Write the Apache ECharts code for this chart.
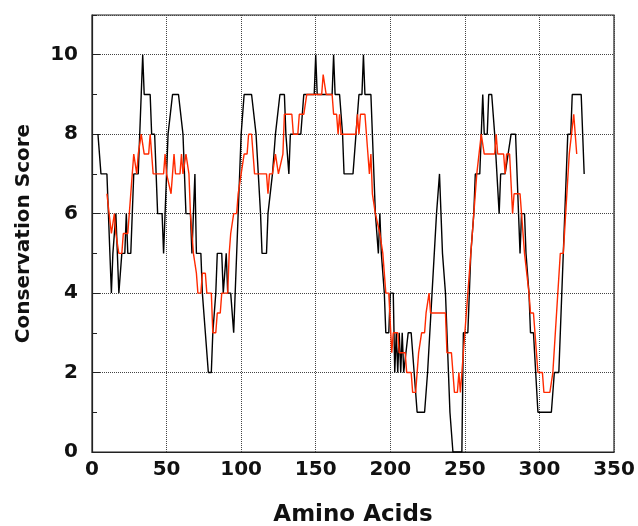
<!DOCTYPE html>
<html>
<head>
<meta charset="utf-8">
<script src="https://cdn.jsdelivr.net/npm/echarts@6/dist/echarts.min.js"></script>
<style>
  html, body { margin: 0; padding: 0; background: #fff; }
  #chart { width: 638px; height: 526px; }
</style>
</head>
<body>
<div id="chart"></div>
<script>
  // raw conservation score per residue (black), vertices [residue, score]
  var rawScores = [
    [4,8],[5,8],[6,7],[10,7],[13,4],[14,5],[15,5],[16,6],[18,4],[19,4],[20,5],[22,5],[23,6],[24,5],[26,5],
    [28,7],[31,7],[32,8],[34,10],[35,9],[39,9],[40,8],[42,8],[44,6],[47,6],[48,5],[51,8],[54,9],[58,9],
    [61,8],[62,8],[63,6],[66,6],[67,5],[69,7],[70,5],[73,5],[74,4],[76,3],[78,2],[80,2],[81,3],[82,3],
    [83,4],[84,5],[87,5],[88,4],[89,4],[90,5],[91,4],[93,4],[95,3],[99,7],[100,8],[102,9],[107,9],[110,8],
    [113,6],[114,5],[117,5],[118,6],[121,7],[123,8],[126,9],[129,9],[130,8],[132,7],[133,8],[140,8],[142,9],
    [149,9],[150,10],[151,9],[161,9],[162,10],[163,9],[166,9],[168,8],[169,7],[175,7],[177,8],[179,9],
    [181,9],[182,10],[183,9],[187,9],[188,8],[190,6],[191,6],[192,5],[193,6],[194,5],[196,4],[197,3],
    [199,3],[200,4],[202,4],[203,2],[204,3],[205,2],[206,3],[207,2],[208,3],[209,2],[212,3],[214,3],
    [216,2],[218,1],[223,1],[225,2],[231,6],[233,7],[234,6],[235,5],[237,4],[240,1],[241,1],[242,0],
    [248,0],[249,3],[252,3],[254,5],[256,6],[257,7],[260,7],[262,9],[263,8],[265,8],[266,9],[268,9],
    [270,8],[273,6],[274,7],[277,7],[281,8],[284,8],[287,5],[288,6],[290,6],[291,5],[293,4],[294,3],
    [296,3],[299,1],[308,1],[310,2],[313,2],[319,8],[321,8],[322,9],[328,9],[329,8],[330,7]
  ];

  // window-averaged score (red)
  var smoothScores = [
    [10,6.5],[13,5.5],[14,5.5],[15,6],[16,5.5],[18,5],[20,5],[21,5.5],[24,5.5],[25,6],[27,7],[28,7.5],
    [30,7],[31,7.5],[33,8],[35,7.5],[38,7.5],[39,8],[40,7.5],[41,7],[48,7],[49,7.5],[50,7],[51,7],
    [53,6.5],[54,7],[55,7.5],[56,7],[59,7],[60,7.5],[61,7],[63,7.5],[64,7.5],[65,7],[66,6],[68,5],
    [70,4.5],[71,4],[73,4],[74,4.5],[76,4.5],[77,4],[80,4],[81,3],[83,3],[84,3.5],[86,3.5],[87,4],
    [91,4],[92,5],[93,5.5],[94,5.5],[95,6],[97,6],[98,6.5],[99,6.5],[100,7],[101,7],[102,7.5],[104,7.5],
    [105,8],[107,8],[108,7.5],[109,7],[117,7],[118,6.5],[119,7],[121,7],[123,7.5],[125,7],[126,7],
    [128,7.5],[129,8.5],[134,8.5],[135,8],[138,8],[139,8.5],[142,8.5],[144,9],[154,9],[155,9.5],
    [156,9.5],[157,9],[161,9],[162,8.5],[164,8.5],[165,8],[166,8.5],[167,8],[177,8],[178,8.5],[179,8],
    [180,8.5],[183,8.5],[185,7.5],[186,7],[187,7.5],[188,6.5],[190,6],[193,5.5],[195,5],[197,4],[199,4],
    [201,2.5],[202,3],[205,3],[206,2.5],[210,2.5],[211,2],[214,2],[215,1.5],[217,1.5],[219,2.5],
    [220,2.5],[221,3],[223,3],[224,3.5],[225,3.5],[226,4],[227,3.5],[237,3.5],[238,2.5],[241,2.5],
    [243,1.5],[245,1.5],[246,2],[247,1.5],[248,2],[250,3],[252,4],[254,5],[256,6],[258,7],[261,8],
    [262,8],[263,7.5],[270,7.5],[271,8],[272,7.5],[276,7.5],[277,7],[278,7.5],[280,7.5],[282,6],
    [283,6.5],[287,6.5],[288,6],[290,5],[293,4],[294,3.5],[296,3.5],[297,3],[299,2],[302,2],[303,1.5],
    [307,1.5],[309,2],[314,5],[316,5],[320,7.5],[323,8.5],[325,7.5]
  ];

  var xRange = [0, 350];
  var yRange = [0, 11];

  var font = 'DejaVu Sans';
  var chart = echarts.init(document.getElementById('chart'));
  var option = {
    animation: false,
    backgroundColor: '#fff',
    grid: {
      left: 92, right: 24, top: 15, bottom: 74,
      outerBoundsMode: 'none',
      show: true, borderColor: '#222', borderWidth: 1.2
    },
    xAxis: {
      type: 'value',
      min: xRange[0], max: xRange[1], interval: 50,
      name: 'Amino Acids',
      nameLocation: 'middle',
      nameGap: 52,
      nameTextStyle: { fontFamily: font, fontWeight: 'bold', fontSize: 23, color: '#111' },
      axisLine: { lineStyle: { color: '#222', width: 1.2 } },
      axisTick: { show: false },
      axisLabel: { fontFamily: font, fontWeight: 'bold', fontSize: 20, color: '#111', margin: 8 },
      splitLine: { show: true, lineStyle: { type: 'dotted', color: '#444', width: 1 } }
    },
    yAxis: [
      {
        type: 'value',
        position: 'left',
        min: yRange[0], max: yRange[1], interval: 2,
        name: 'Conservation Score',
        nameLocation: 'middle',
        nameGap: 58,
        nameTextStyle: { fontFamily: font, fontWeight: 'bold', fontSize: 20, color: '#111' },
        axisLine: { show: true, lineStyle: { color: '#222', width: 1.2 } },
        axisTick: { show: true, inside: true, length: 8, lineStyle: { color: '#222' } },
        axisLabel: { fontFamily: font, fontWeight: 'bold', fontSize: 20, color: '#111', margin: 14, showMaxLabel: false },
        splitLine: { show: true, lineStyle: { type: 'dotted', color: '#444', width: 1 } }
      },
      {
        // odd-value minor ticks
        type: 'value',
        position: 'left',
        min: yRange[0], max: yRange[1], interval: 1,
        axisLine: { show: false },
        axisTick: { show: true, inside: true, length: 5, lineStyle: { color: '#222' } },
        axisLabel: { show: false },
        splitLine: { show: false }
      }
    ],
    series: [
      {
        name: 'raw',
        type: 'line',
        data: rawScores,
        showSymbol: false,
        lineStyle: { color: '#000', width: 1.4 },
        z: 2
      },
      {
        name: 'smooth',
        type: 'line',
        data: smoothScores,
        showSymbol: false,
        lineStyle: { color: '#ff2a00', width: 1.4 },
        z: 3
      }
    ]
  };
  chart.setOption(option);
</script>
</body>
</html>
